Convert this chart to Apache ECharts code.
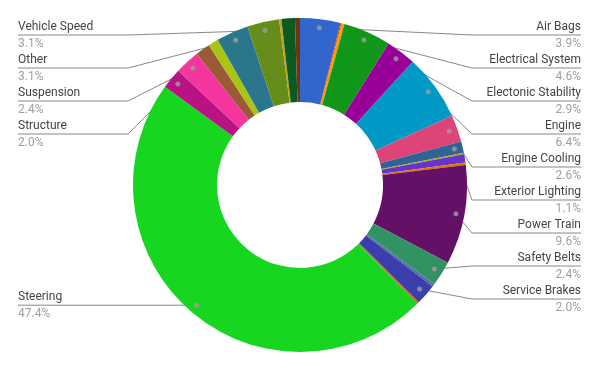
<!DOCTYPE html>
<html><head><meta charset="utf-8">
<script src="https://cdn.jsdelivr.net/npm/echarts@6/dist/echarts.min.js"></script>
<style>html,body{margin:0;padding:0;background:#fff}#c{width:600px;height:371px}</style>
</head><body><div id="c"></div>
<script>
const categories = ['Air Bags','Back Over Prevention','Child Seat','Electrical System','Electonic Stability','Engine','Engine Cooling','Exterior Lighting','Fuel System','Hybrid Propulsion','Latches','Power Train','Safety Belts','Seats','Service Brakes','Parking Brake','Steering','Structure','Suspension','Tires','Traction Control','Other','Vehicle Speed','Visibility','Wheels','Wiring'];
const values = [3.9,0.1,0.3,4.6,2.9,6.4,2.6,1.1,0.15,0.8,0.25,9.6,2.4,0.3,2.0,0.2,47.4,2.0,2.4,1.4,1.0,3.1,3.1,0.22,1.3,0.48];
const colors = ['#3366cc','#dc3912','#ff9900','#109618','#990099','#0099c6','#dd4477','#316395','#aaaa11','#6633cc','#e67300','#651067','#329262','#5574a6','#3b3eac','#b77322','#16d620','#b91383','#f4359e','#9c5935','#a9c413','#2a778d','#668d1c','#bea413','#0c5922','#743411'];
const labeledCategories = ['Air Bags','Electrical System','Electonic Stability','Engine','Engine Cooling','Exterior Lighting','Power Train','Safety Belts','Service Brakes','Steering','Structure','Suspension','Other','Vehicle Speed'];

const CX = 300, CY = 185, R_IN = 83, R_OUT = 167, R_DOT = 158.5;
const total = values.reduce((a, b) => a + b, 0);
let cum = 0;
const mids = values.map(v => { const m = cum + v / 2; cum += v; return m / total * 100; });

const info = [];
categories.forEach((name, i) => {
  if (!labeledCategories.includes(name)) return;
  const ang = mids[i] / 100 * 2 * Math.PI;
  info.push({ i, x: CX + R_DOT * Math.sin(ang), y: CY - R_DOT * Math.cos(ang), right: mids[i] < 50 });
});
const LH = 33, TOP = 35, BOTTOM = 345;
function resolve(items) {
  items.sort((a, b) => a.y - b.y);
  const groups = items.map(it => ({ items: [it] }));
  const place = g => {
    let s = 0; g.items.forEach((it, k) => s += it.y - k * LH);
    let st = s / g.items.length;
    st = Math.max(TOP, Math.min(BOTTOM - (g.items.length - 1) * LH, st));
    g.start = st;
  };
  groups.forEach(place);
  let changed = true;
  while (changed) {
    changed = false;
    for (let k = 1; k < groups.length; k++) {
      const p = groups[k - 1], g = groups[k];
      if (p.start + p.items.length * LH > g.start + 0.01) {
        p.items = p.items.concat(g.items); place(p); groups.splice(k, 1); changed = true; break;
      }
    }
  }
  groups.forEach(g => g.items.forEach((it, k) => it.ly = g.start + k * LH));
}
resolve(info.filter(d => d.right));
resolve(info.filter(d => !d.right));
const layoutMap = {};
info.forEach(d => layoutMap[d.i] = d);

const chart = echarts.init(document.getElementById('c'), null, { renderer: 'canvas' });
chart.setOption({
  animation: false,
  backgroundColor: '#fff',
  textStyle: { fontFamily: 'Roboto' },
  polar: { center: [CX, CY], radius: R_OUT },
  angleAxis: { type: 'value', min: 0, max: 100, startAngle: 90, clockwise: true, show: false },
  radiusAxis: { type: 'value', min: 0, max: R_OUT, show: false },
  series: [{
    type: 'pie',
    center: [CX, CY],
    radius: [R_IN, R_OUT],
    startAngle: 90,
    clockwise: true,
    avoidLabelOverlap: false,
    silent: true,
    itemStyle: { borderWidth: 0 },
    label: {
      show: true,
      position: 'outer',
      fontFamily: 'Roboto',
      formatter: p => '{n|' + p.name + '}\n{v|' + p.value.toFixed(1) + '%}',
      rich: {
        n: { fontFamily: 'Roboto', fontSize: 12, color: '#444', lineHeight: 17 },
        v: { fontFamily: 'Roboto', fontSize: 12, color: '#9e9e9e', lineHeight: 17 }
      }
    },
    labelLine: { show: true, length: 10, length2: 10, smooth: false, lineStyle: { color: '#888', width: 1 } },
    labelLayout: function (p) {
      const d = layoutMap[p.dataIndex];
      if (!d) return {};
      const edge = d.right ? 581 : 18, bend = d.right ? 472 : 128;
      return {
        x: edge, y: d.ly + 0.5, align: d.right ? 'right' : 'left', verticalAlign: 'middle',
        labelLinePoints: [[d.x, d.y], [bend, d.ly], [edge, d.ly]]
      };
    },
    data: categories.map((n, i) => {
      const shown = labeledCategories.includes(n);
      return { name: n, value: values[i], itemStyle: { color: colors[i] }, label: { show: shown }, labelLine: { show: shown } };
    })
  }, {
    type: 'scatter',
    coordinateSystem: 'polar',
    silent: true,
    symbol: 'circle',
    symbolSize: 5,
    z: 10,
    itemStyle: { color: '#9e9e9e' },
    data: categories.map((n, i) => labeledCategories.includes(n) ? [R_DOT, mids[i]] : null).filter(Boolean)
  }]
});
</script></body></html>
